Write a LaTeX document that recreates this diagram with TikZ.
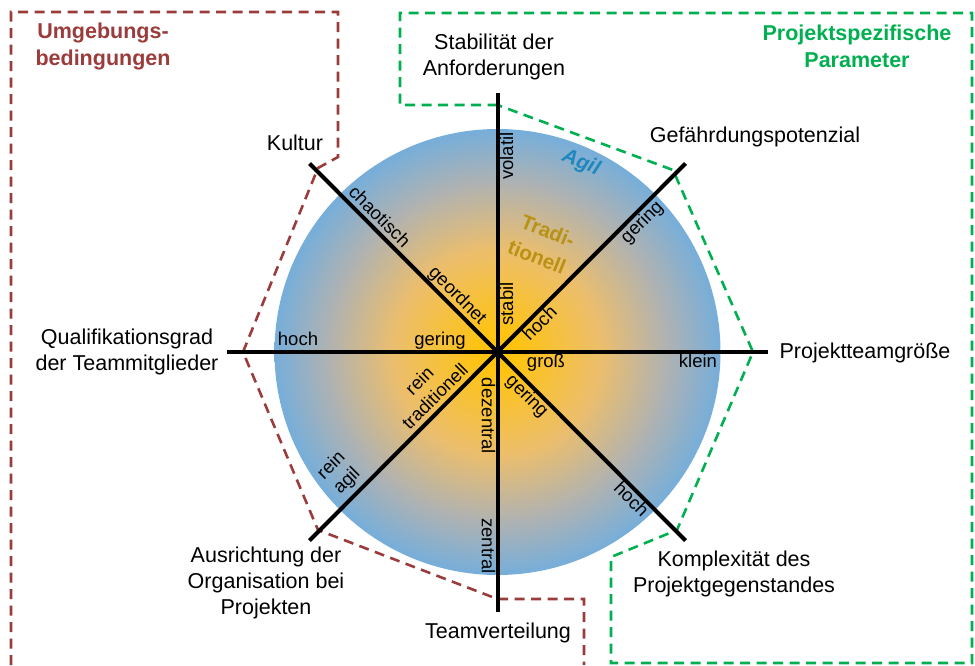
\documentclass[tikz,border=0pt]{standalone}
\usepackage{fontspec}
\setmainfont{Liberation Sans}
\definecolor{redc}{RGB}{155,60,60}
\definecolor{greenc}{RGB}{0,176,80}
\definecolor{agilc}{RGB}{30,135,190}
\definecolor{tradc}{RGB}{184,146,20}
\definecolor{shA}{RGB}{255,195,15}
\definecolor{shB}{RGB}{236,190,108}
\definecolor{shC}{RGB}{175,178,178}
\definecolor{shD}{RGB}{118,174,218}
\pgfdeclareradialshading{agilshade}{\pgfpoint{0bp}{0bp}}{color(0bp)=(shA); color(2bp)=(shA); color(11.5bp)=(shB); color(19bp)=(shC); color(25bp)=(shD); color(50bp)=(shD)}
\begin{document}
\begin{tikzpicture}[x=1pt,y=-1pt,
  axisline/.style={line width=4pt},
  bound/.style={line width=2.6pt, dash pattern=on 10pt off 6.5pt},
  lbl/.style={font=\fontsize{21.5}{26}\selectfont, align=center, inner sep=0pt},
  val/.style={font=\fontsize{18.5}{22}\selectfont, inner sep=2pt, text height=13.5pt, text depth=4pt},
  valm/.style={font=\fontsize{18.5}{22}\selectfont, align=center, inner sep=0pt},
  head/.style={font=\fontsize{21.5}{27}\selectfont\bfseries, align=center, inner sep=0pt},
  region/.style={font=\fontsize{20.5}{24}\selectfont\bfseries, rotate=-22, inner sep=0pt}]
\useasboundingbox (0,0) rectangle (975,665);

% circle with gradient
\coordinate (C) at (497.5,352);
\shade[shading=agilshade] (C) circle[radius=223];

% boundaries
\draw[bound, redc] (11,665) -- (11,12) -- (338,12) -- (338,157) -- (318,168) -- (243,352) -- (318,530) -- (497.5,599) -- (584,599) -- (584,665);
\draw[bound, greenc] (497.5,105) -- (400,105) -- (400,13) -- (972,13) -- (972,663) -- (611,663) -- (611,557) -- (677,530) -- (753,352) -- (673,170) -- cycle;

% axes
\coordinate (eN) at (497.5,93);
\coordinate (eS) at (497.5,612);
\coordinate (eW) at (227,352);
\coordinate (eE) at (768,352);
\coordinate (eNW) at (309.5,163.5);
\coordinate (eSE) at (685.5,540.5);
\coordinate (eNE) at (685.5,163.5);
\coordinate (eSW) at (309.5,540.5);
\draw[axisline] (eN) -- (eS);
\draw[axisline] (eW) -- (eE);
\draw[axisline] (eNW) -- (eSE);
\draw[axisline] (eNE) -- (eSW);

% headers
\node[head, text=redc] (hUmg) at (103,46) {Umgebungs-\\bedingungen};
\node[head, text=greenc] (hProj) at (857,46) {Projektspezifische\\Parameter};

% axis labels
\node[lbl] (lStab) at (494,57) {Stabilität der\\Anforderungen};
\node[lbl] (lGef) at (755,137) {Gefährdungspotenzial};
\node[lbl] (lKult) at (295,143) {Kultur};
\node[lbl] (lQual) at (127,352) {Qualifikationsgrad\\der Teammitglieder};
\node[lbl] (lTeam) at (865,353) {Projektteamgröße};
\node[lbl] (lAusr) at (266,583) {Ausrichtung der\\Organisation bei\\Projekten};
\node[lbl] (lVert) at (498,633) {Teamverteilung};
\node[lbl] (lKompl) at (734,574) {Komplexität des\\Projektgegenstandes};

% region labels
\node[region, font=\fontsize{20.5}{24}\selectfont\bfseries\itshape, text=agilc] (tAgil) at (581,163) {Agil};
\node[region, text=tradc] (tTrad1) at (548,231) {Tradi-};
\node[region, text=tradc] (tTrad2) at (537,257) {tionell};

% values
\node[val, anchor=north, rotate=90] (vVol) at (497.5,156) {volatil};
\node[val, anchor=north, rotate=90] (vStab) at (497.5,304) {stabil};
\node[val, anchor=north, rotate=-90] (vDez) at (497.5,416) {dezentral};
\node[val, anchor=north, rotate=-90] (vZen) at (497.5,546) {zentral};
\node[val, anchor=south] (vHochL) at (298,352) {hoch};
\node[val, anchor=south] (vGerL) at (440,352) {gering};
\node[val, anchor=north] (vGross) at (546,352) {groß};
\node[val, anchor=north] (vKlein) at (698,352) {klein};
\node[val, anchor=south, rotate=-45] (vChao) at (370.9,225.4) {chaotisch};
\node[val, anchor=south, rotate=-45] (vGeo) at (449.4,303.9) {geordnet};
\node[val, anchor=north, rotate=45] (vGerNE) at (634.7,214.8) {gering};
\node[val, anchor=north, rotate=45] (vHochNE) at (532.9,316.6) {hoch};
\node[val, anchor=north, rotate=-45] (vGerSE) at (534.3,388.8) {gering};
\node[val, anchor=north, rotate=-45] (vHochSE) at (638.2,492.7) {hoch};
\node[valm, rotate=45] (vTrad) at (427,388.5) {rein\\traditionell};
\node[valm, rotate=45] (vAgil) at (339.5,473.5) {rein\\agil};
\end{tikzpicture}
\end{document}
